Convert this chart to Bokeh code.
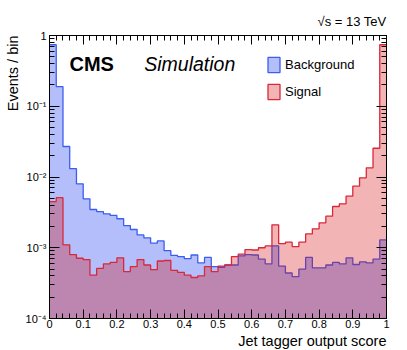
import numpy as np
from bokeh.plotting import figure
from bokeh.models import (FixedTicker, CustomJSTickFormatter, LinearAxis, LogAxis,
                          Label, Legend, LegendItem, Title)
from bokeh.embed import file_html
from bokeh.resources import INLINE

# ---- data (50 bins of width 0.02, events / bin) ----
bin_edges = np.round(np.linspace(0.0, 1.0, 51), 4)
background = [0.74, 0.19, 0.027, 0.0131, 0.0080, 0.00492, 0.00347, 0.00325, 0.00302, 0.00286,
              0.00257, 0.00206, 0.00181, 0.00152, 0.00138, 0.00116, 0.00125, 0.00091, 0.00078, 0.00075,
              0.00070, 0.00079, 0.00061, 0.00073, 0.00054, 0.00053, 0.00057, 0.00057, 0.00077, 0.00080,
              0.00079, 0.00069, 0.00059, 0.00106, 0.00055, 0.00044, 0.00039, 0.00050, 0.00073, 0.00052,
              0.00052, 0.00057, 0.00062, 0.00059, 0.00072, 0.00058, 0.00063, 0.00061, 0.00069, 0.00129]
signal = [0.0045, 0.0051, 0.0011, 0.00080, 0.00071, 0.00068, 0.00041, 0.00051, 0.00059, 0.00062,
          0.00072, 0.00046, 0.00054, 0.00068, 0.00057, 0.00049, 0.00065, 0.00066, 0.00048, 0.00045,
          0.00041, 0.00038, 0.00040, 0.00054, 0.00046, 0.00055, 0.00057, 0.00075, 0.00081, 0.00094,
          0.00093, 0.00100, 0.00106, 0.00211, 0.00114, 0.00120, 0.00104, 0.00120, 0.00157, 0.00185,
          0.00225, 0.00279, 0.00383, 0.00418, 0.00536, 0.00741, 0.00975, 0.0135, 0.0255, 0.74]
x_ticks = [0.0, 0.1, 0.2, 0.3, 0.4, 0.5, 0.6, 0.7, 0.8, 0.9, 1.0]
y_ticks = [1e-4, 1e-3, 1e-2, 1e-1, 1.0]

FONT = "Liberation Sans"
BLUE_FILL = "#b3befa"
BLUE_LINE = "#3c5ef0"
RED_FILL = (211, 5, 5)
RED_LINE = "#d8283a"

p = figure(width=400, height=350, y_axis_type="log",
           x_range=(0, 1), y_range=(1e-4, 1),
           output_backend="svg", toolbar_location=None,
           min_border_left=48, min_border_top=35, min_border_right=14, min_border_bottom=32)
p.xgrid.visible = False
p.ygrid.visible = False
p.outline_line_color = "black"
p.outline_line_width = 1
p.background_fill_color = "white"
p.border_fill_color = "white"

left_e = bin_edges[:-1]
right_e = bin_edges[1:]
bottom_val = 1e-6
bg_ext = list(background) + [background[-1]]
sig_ext = list(signal) + [signal[-1]]
floor = [bottom_val] * len(bin_edges)

# background fill + outline
p.varea_step(x=bin_edges, y1=floor, y2=bg_ext, step_mode="after", fill_color=BLUE_FILL)
p.step(x=bin_edges, y=bg_ext, mode="after", line_color=BLUE_LINE, line_width=1.3)
# signal fill (semi-transparent) + outline
p.varea_step(x=bin_edges, y1=floor, y2=sig_ext, step_mode="after",
             fill_color=RED_FILL, fill_alpha=0.3)
p.step(x=bin_edges, y=sig_ext, mode="after", line_color=RED_LINE, line_width=1.3)

# ---- axes ----
xt = FixedTicker(ticks=x_ticks, minor_ticks=list(np.round(np.arange(0, 1.0001, 0.02), 4)))
minor_y = [k * 10.0 ** d for d in range(-4, 0) for k in range(2, 10)]
yt = FixedTicker(ticks=y_ticks, minor_ticks=minor_y)
xfmt = CustomJSTickFormatter(code="return tick.toFixed(1).replace(/\\.0$/, '');")
yfmt = CustomJSTickFormatter(code="""
const e = Math.round(Math.log10(tick));
if (e == 0) { return '1'; }
const sup = {'-': '\u207b', '0': '\u2070', '1': '\u00b9', '2': '\u00b2', '3': '\u00b3', '4': '\u2074'};
return '10' + String(e).split('').map(c => sup[c]).join('');
""")
blank_fmt = CustomJSTickFormatter(code="return '';")


def style(ax, length_major, length_minor, standoff):
    ax.major_tick_in = length_major
    ax.major_tick_out = 0
    ax.minor_tick_in = length_minor
    ax.minor_tick_out = 0
    ax.axis_line_color = "black"
    ax.major_tick_line_color = "black"
    ax.minor_tick_line_color = "black"
    ax.axis_label = None
    ax.major_label_text_font = FONT
    ax.major_label_text_font_size = "11px"
    ax.major_label_text_color = "black"
    ax.major_label_standoff = standoff


xa = p.xaxis[0]
xa.ticker = xt
xa.formatter = xfmt
style(xa, 9, 5, 1)
ya = p.yaxis[0]
ya.ticker = yt
ya.formatter = yfmt
style(ya, 10, 5, 3)

top_ax = LinearAxis(ticker=xt, formatter=blank_fmt)
style(top_ax, 9, 5, 0)
p.add_layout(top_ax, "above")
right_ax = LogAxis(ticker=yt, formatter=blank_fmt)
style(right_ax, 10, 5, 0)
p.add_layout(right_ax, "right")

# ---- axis titles and energy label as titles in the side panels ----
p.add_layout(Title(text="\u221as = 13 TeV", align="right", text_font=FONT,
                   text_font_size="13px", text_font_style="normal", text_color="black",
                   standoff=13), "above")
p.add_layout(Title(text="Jet tagger output score", align="right", text_font=FONT,
                   text_font_size="14.5px", text_font_style="normal", text_color="black",
                   standoff=0), "below")
p.add_layout(Title(text="Events / bin", align="right", text_font=FONT,
                   text_font_size="14.5px", text_font_style="normal", text_color="black",
                   standoff=4), "left")

# ---- legend (hidden renderers carrying the legend styling) ----
lb = p.quad(left=left_e, right=right_e, top=background, bottom=bottom_val,
            fill_color=BLUE_FILL, line_color=BLUE_LINE, line_width=1.3, visible=False)
ls = p.quad(left=left_e, right=right_e, top=signal, bottom=bottom_val,
            fill_color=RED_FILL, fill_alpha=0.3, line_color=RED_LINE, line_width=1.3,
            visible=False)
legend = Legend(items=[LegendItem(label="Background", renderers=[lb]),
                       LegendItem(label="Signal", renderers=[ls])],
                location=(217, 217), padding=0, margin=0, spacing=8,
                glyph_width=15, glyph_height=19, label_standoff=4,
                label_text_font=FONT, label_text_font_size="13px", label_text_color="black",
                border_line_color=None, background_fill_alpha=0, inactive_fill_alpha=0)
p.add_layout(legend)

# ---- texts inside the frame ----
def ydata(page_y):
    return 10 ** (-(page_y - 35) / 70.75)


def xdata(page_x):
    return (page_x - 48) / 338.0


p.add_layout(Label(x=xdata(68), y=ydata(63), text="CMS", text_font=FONT,
                   text_font_style="bold", text_font_size="20px", text_color="black",
                   text_baseline="alphabetic", text_align="left"))
p.add_layout(Label(x=xdata(143), y=ydata(63), text="Simulation", text_font=FONT,
                   text_font_style="italic", text_font_size="19.5px", text_color="black",
                   text_baseline="alphabetic", text_align="left"))

open("out.html", "w").write(file_html(p, INLINE))
